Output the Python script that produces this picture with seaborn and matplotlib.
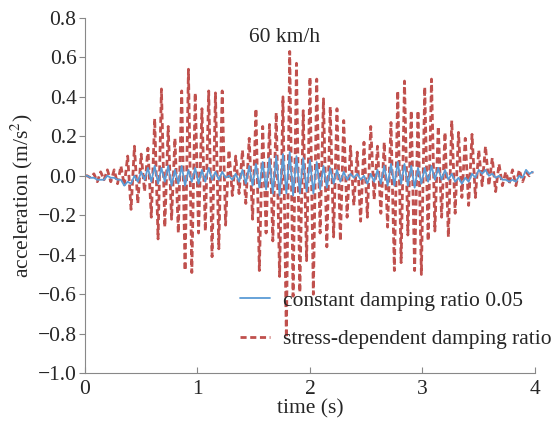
import numpy as np
import pandas as pd
import matplotlib
matplotlib.use("Agg")
import matplotlib.pyplot as plt
import seaborn as sns

# extrema: peaks at t = 0.02 + 0.06 i, troughs 0.03 s later
step = 0.03
t_first = 0.02

red_peaks = [0.00, 0.01, 0.02, 0.03, 0.03, 0.05, 0.10, 0.15, 0.11, 0.14,
             0.29, 0.44, 0.25, 0.19, 0.43, 0.54, 0.42, 0.34, 0.43, 0.42,
             0.43, 0.13, 0.10, 0.13, 0.19, 0.34, 0.25, 0.26, 0.32, 0.40,
             0.63, 0.57, 0.33, 0.50, 0.49, 0.39, 0.35, 0.34, 0.28, 0.15,
             0.12, 0.17, 0.25, 0.15, 0.17, 0.27, 0.43, 0.48, 0.33, 0.33,
             0.45, 0.49, 0.25, 0.22, 0.28, 0.22, 0.19, 0.21, 0.13, 0.15,
             0.09, 0.06, 0.02, 0.03, 0.03, 0.02, 0.02]
red_troughs = [-0.01, -0.03, -0.02, -0.03, -0.04, -0.05, -0.17, -0.14, -0.08, -0.21,
               -0.32, -0.26, -0.22, -0.29, -0.48, -0.49, -0.29, -0.28, -0.41, -0.37,
               -0.25, -0.10, -0.09, -0.14, -0.22, -0.48, -0.29, -0.33, -0.51, -0.82,
               -0.61, -0.59, -0.43, -0.60, -0.29, -0.36, -0.31, -0.33, -0.21, -0.15,
               -0.23, -0.21, -0.12, -0.19, -0.26, -0.48, -0.44, -0.30, -0.48, -0.50,
               -0.33, -0.28, -0.21, -0.31, -0.19, -0.11, -0.15, -0.11, -0.05, -0.05,
               -0.08, -0.05, -0.04, -0.05, -0.03, 0.00]

blue_peaks = [0.00, -0.01, -0.02, 0.00, -0.01, -0.02, -0.03, 0.00, 0.02, 0.04,
              0.05, 0.04, 0.05, 0.03, 0.05, 0.03, 0.04, 0.03, 0.04, 0.02,
              0.02, 0.00, 0.01, 0.03, 0.05, 0.06, 0.07, 0.09, 0.10, 0.11,
              0.12, 0.10, 0.09, 0.08, 0.07, 0.05, 0.04, 0.03, 0.02, 0.01,
              0.01, 0.00, 0.01, 0.03, 0.05, 0.06, 0.07, 0.06, 0.05, 0.04,
              0.04, 0.05, 0.04, 0.03, 0.01, -0.01, -0.01, 0.01, 0.03, 0.03,
              0.01, 0.00, -0.02, -0.02, 0.00, 0.03, 0.02]
blue_troughs = [-0.01, -0.02, -0.02, -0.01, -0.02, -0.05, -0.04, -0.03, -0.02, -0.03,
                -0.04, -0.03, -0.05, -0.04, -0.05, -0.03, -0.04, -0.03, -0.02, -0.02,
                -0.01, -0.02, -0.03, -0.04, -0.05, -0.06, -0.07, -0.09, -0.10, -0.09,
                -0.10, -0.09, -0.08, -0.09, -0.07, -0.06, -0.04, -0.03, -0.02, -0.01,
                -0.02, -0.04, -0.03, -0.04, -0.05, -0.05, -0.04, -0.05, -0.06, -0.04,
                -0.03, -0.02, -0.02, -0.02, -0.03, -0.04, -0.03, -0.01, 0.01, 0.00,
                -0.01, -0.02, -0.03, -0.03, -0.01, 0.01]

y_ticks = [-1.0, -0.8, -0.6, -0.4, -0.2, 0.0, 0.2, 0.4, 0.6, 0.8]
x_ticks = [0, 1, 2, 3, 4]

label_const = "constant damping ratio 0.05"
label_stress = "stress-dependent damping ratio"


def interleave(peaks, troughs):
    vals = [0.0]
    for i, p in enumerate(peaks):
        vals.append(p)
        if i < len(troughs):
            vals.append(troughs[i])
    times = [0.0] + [t_first + step * k for k in range(len(vals) - 1)]
    return times, vals


t_red, a_red = interleave(red_peaks, red_troughs)
t_blue, a_blue = interleave(blue_peaks, blue_troughs)
df = pd.concat([
    pd.DataFrame({"time": t_red, "acc": a_red, "series": label_stress}),
    pd.DataFrame({"time": t_blue, "acc": a_blue, "series": label_const}),
], ignore_index=True)

sns.set_style("ticks")
plt.rcParams['font.family'] = ['Liberation Serif', 'DejaVu Serif']
plt.rcParams['mathtext.fontset'] = 'stix'
fontsize = 15.5

fig = plt.figure(figsize=(5.55, 4.26), dpi=100)
ax = fig.add_axes([0.153, 0.124, 0.811, 0.834])

red = "#c0504d"
blue = "#5b9bd5"
sns.lineplot(data=df[df["series"] == label_stress], x="time", y="acc", ax=ax,
             color=red, lw=2.0, linestyle=(0, (2.2, 1.3)), sort=False,
             estimator=None, label=label_stress)
sns.lineplot(data=df[df["series"] == label_const], x="time", y="acc", ax=ax,
             color=blue, lw=1.3, sort=False, estimator=None, label=label_const)

ax.set_xlim(0, 4)
ax.set_ylim(-1.0, 0.8)
ax.set_xticks(x_ticks)
ax.set_yticks(y_ticks)
ax.set_yticklabels([f"{v:.1f}".replace("-", "\u2212") for v in y_ticks])
ax.set_xlabel("time (s)", fontsize=fontsize, labelpad=0)
ax.set_ylabel("acceleration (m/s$^2$)", fontsize=fontsize, labelpad=2)
ax.tick_params(axis="y", direction="out", length=4, color="#888888", labelsize=fontsize, pad=2)
ax.tick_params(axis="x", direction="in", length=4, color="#888888", labelsize=fontsize, pad=5)
for side in ["top", "right"]:
    ax.spines[side].set_visible(False)
for side in ["left", "bottom"]:
    ax.spines[side].set_color("#888888")

ax.text(0.444, 0.946, "60 km/h", transform=ax.transAxes, ha="center", va="center",
        fontsize=fontsize)

handles, labels = ax.get_legend_handles_labels()
ax.legend(handles[::-1], labels[::-1], loc="lower right", bbox_to_anchor=(1.01, 0.16),
          bbox_transform=fig.transFigure, frameon=False, fontsize=fontsize,
          handlelength=1.4, labelspacing=0.85, handletextpad=0.6, borderaxespad=0)

fig.savefig("out.png", dpi=100)
